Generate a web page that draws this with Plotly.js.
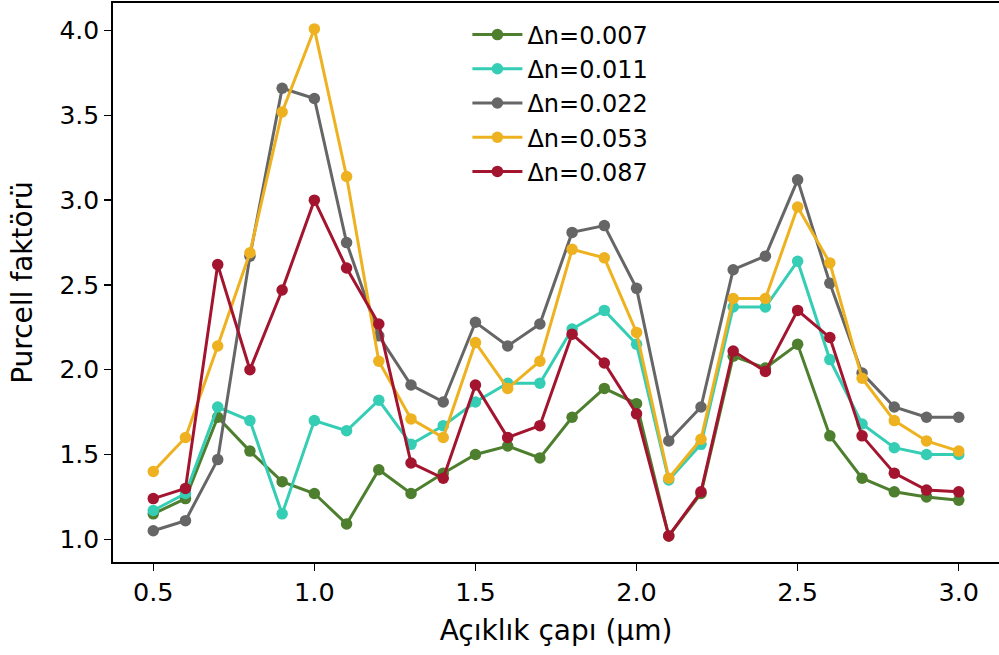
<!DOCTYPE html>
<html>
<head>
<meta charset="utf-8">
<script src="https://cdn.plot.ly/plotly-3.0.1.min.js"></script>
<style>html,body{margin:0;padding:0;background:#fff;}#chart{width:999px;height:655px;}</style>
</head>
<body>
<div id="chart"></div>
<script>
const apertureDiameter = [0.5,0.6,0.7,0.8,0.9,1.0,1.1,1.2,1.3,1.4,1.5,1.6,1.7,1.8,1.9,2.0,2.1,2.2,2.3,2.4,2.5,2.6,2.7,2.8,2.9,3.0];
const seriesNames = ['Δn=0.007','Δn=0.011','Δn=0.022','Δn=0.053','Δn=0.087'];
const dn007 = [1.15,1.24,1.72,1.52,1.34,1.27,1.09,1.41,1.27,1.39,1.50,1.55,1.48,1.72,1.89,1.80,1.02,1.27,2.08,2.01,2.15,1.61,1.36,1.28,1.25,1.23];
const dn011 = [1.17,1.27,1.78,1.70,1.15,1.70,1.64,1.82,1.56,1.67,1.81,1.92,1.92,2.24,2.35,2.15,1.35,1.56,2.37,2.37,2.64,2.06,1.68,1.54,1.50,1.50];
const dn022 = [1.05,1.11,1.47,2.67,3.66,3.60,2.75,2.20,1.91,1.81,2.28,2.14,2.27,2.81,2.85,2.48,1.58,1.78,2.59,2.67,3.12,2.51,1.98,1.78,1.72,1.72];
const dn053 = [1.40,1.60,2.14,2.69,3.52,4.01,3.14,2.05,1.71,1.60,2.16,1.89,2.05,2.71,2.66,2.22,1.36,1.59,2.42,2.42,2.96,2.63,1.95,1.70,1.58,1.52];
const dn087 = [1.24,1.30,2.62,2.00,2.47,3.00,2.60,2.27,1.45,1.36,1.91,1.60,1.67,2.21,2.04,1.74,1.02,1.28,2.11,1.99,2.35,2.19,1.61,1.39,1.29,1.28];
const xTickVals = [0.5,1.0,1.5,2.0,2.5,3.0];
const xTickText = ['0.5','1.0','1.5','2.0','2.5','3.0'];
const yTickVals = [1.0,1.5,2.0,2.5,3.0,3.5,4.0];
const yTickText = ['1.0','1.5','2.0','2.5','3.0','3.5','4.0'];

const seriesValues = [dn007, dn011, dn022, dn053, dn087];
const colors = ['#4d7f2e','#35cdb4','#666666','#eeb220','#a3142f'];

const traces = seriesValues.map((vals, i) => ({
  x: apertureDiameter,
  y: vals,
  name: seriesNames[i],
  type: 'scatter',
  mode: 'lines+markers',
  line: {color: colors[i], width: 3},
  marker: {color: colors[i], size: 11.5}
}));

const font = {family: 'DejaVu Sans, sans-serif', color: '#000'};

const layout = {
  width: 999, height: 655,
  margin: {l: 113, r: 0, t: 3, b: 93},
  paper_bgcolor: '#fff', plot_bgcolor: '#fff',
  font: Object.assign({size: 25}, font),
  showlegend: true,
  legend: {
    x: 0.4, xanchor: 'left', y: 0.983, yanchor: 'top',
    bgcolor: 'rgba(0,0,0,0)', borderwidth: 0,
    font: Object.assign({size: 24}, font),
    itemwidth: 50
  },
  xaxis: {
    range: [0.375, 3.125],
    tickmode: 'array', tickvals: xTickVals, ticktext: xTickText,
    ticks: 'outside', ticklen: 7, tickwidth: 1.5, tickcolor: '#000',
    showline: true, linecolor: '#000', linewidth: 1.8, mirror: true,
    showgrid: false, zeroline: false,
    tickfont: Object.assign({size: 25.5}, font),
    title: {text: 'Açıklık çapı (μm)', font: Object.assign({size: 28}, font), standoff: 14}
  },
  yaxis: {
    range: [0.866, 4.163],
    tickmode: 'array', tickvals: yTickVals, ticktext: yTickText,
    ticks: 'outside', ticklen: 7, tickwidth: 1.5, tickcolor: '#000',
    showline: true, linecolor: '#000', linewidth: 1.8, mirror: true,
    showgrid: false, zeroline: false,
    tickfont: Object.assign({size: 25}, font),
    title: {text: 'Purcell faktörü', font: Object.assign({size: 28}, font), standoff: 19}
  }
};

Plotly.newPlot('chart', traces, layout, {displayModeBar: false, staticPlot: true});
</script>
</body>
</html>
